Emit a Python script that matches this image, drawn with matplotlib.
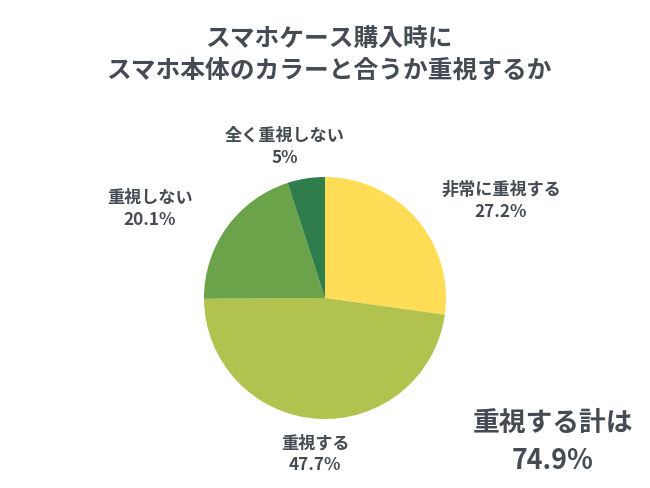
import matplotlib
matplotlib.use("Agg")
import matplotlib.pyplot as plt

plt.rcParams['font.family'] = ['Noto Sans CJK JP', 'DejaVu Sans']

title_lines = ["スマホケース購入時に", "スマホ本体のカラーと合うか重視するか"]
categories = ["非常に重視する", "重視する", "重視しない", "全く重視しない"]
values = [27.2, 47.7, 20.1, 5.0]
value_labels = ["27.2%", "47.7%", "20.1%", "5%"]
total_label = "重視する計は"
total_value = "74.9%"

colors = ["#FFDD57", "#B2C24F", "#6BA34A", "#2F7D4B"]
text_color = "#454B52"

W, H = 650, 488
fig = plt.figure(figsize=(W / 100, H / 100), dpi=100)
fig.patch.set_facecolor("white")

cx, cy, r = 325, 298, 121
ax = fig.add_axes([(cx - r) / W, (H - cy - r) / H, 2 * r / W, 2 * r / H])
ax.pie(values, colors=colors, startangle=90, counterclock=False,
       radius=1.0, wedgeprops=dict(linewidth=0))
ax.set_xlim(-1, 1)
ax.set_ylim(-1, 1)
ax.set_aspect('equal')
ax.axis('off')

def ftext(x, y, s, size, weight='bold'):
    fig.text(x / W, 1 - y / H, s, ha='center', va='center', fontsize=size,
             fontweight=weight, color=text_color)

ftext(329, 40, title_lines[0], 17.8)
ftext(329, 71, title_lines[1], 17.8)

label_pos = [(501, 190), (315, 443), (150, 198), (285, 136)]
for (x, y), cat, vl in zip(label_pos, categories, value_labels):
    ftext(x, y, cat, 12.3)
    ftext(x, y + 22, vl, 12.3)

ftext(553, 423, total_label, 19.3)
ftext(553, 461, total_value, 19.3)

fig.savefig("out.png", dpi=100, facecolor="white")
